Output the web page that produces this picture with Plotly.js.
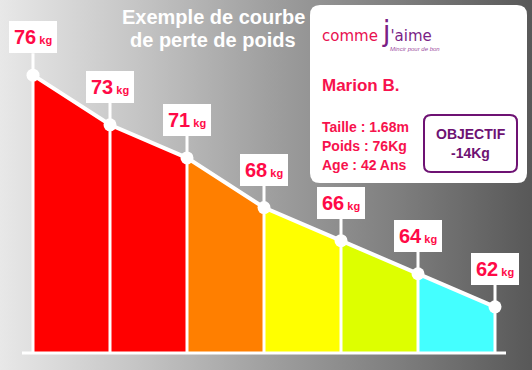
<!DOCTYPE html>
<html>
<head>
<meta charset="utf-8">
<script src="https://cdn.plot.ly/plotly-3.0.1.min.js"></script>
<style>
html,body{margin:0;padding:0;}
#chart{width:532px;height:370px;background:linear-gradient(to right,#e8e8e8 0%,#c6c6c6 25%,#a0a0a0 50%,#7e7e7e 75%,#585858 100%);}
</style>
</head>
<body>
<div id="chart"></div>
<script>
// ---- data ----
const steps = [0, 1, 2, 3, 4, 5, 6];
const weights = [76, 73, 71, 68, 66, 64, 62];
const unit = 'kg';
const segmentColors = ['#ff0000', '#ff0000', '#ff7f00', '#ffff00', '#ddff00', '#44ffff'];
const titleLines = ['Exemple de courbe', 'de perte de poids'];
const personName = 'Marion B.';
const personInfo = ['Taille : 1.68m', 'Poids : 76Kg', 'Age : 42 Ans'];
const goalLines = ['OBJECTIF', '-14Kg'];

// ---- layout helpers ----
const W = 532, H = 370, MB = 17;
const PH = H - MB;
const px = x => x / W;
const py = y => 1 - y / PH;
const yRange = [59.21, 80.54];
const xRange = [-0.4286, 6.4805];
const font = 'Liberation Sans, Arial, sans-serif';
const red = '#f7124d';
const purple = '#6e1273';

function roundRect(x0, y0, x1, y1, r) {
  const rx = r / W, ry = r / PH;
  const X0 = px(x0), X1 = px(x1), Y0 = py(y0), Y1 = py(y1);
  return `M${X0 + rx},${Y0} L${X1 - rx},${Y0} Q${X1},${Y0} ${X1},${Y0 - ry} ` +
         `L${X1},${Y1 + ry} Q${X1},${Y1} ${X1 - rx},${Y1} L${X0 + rx},${Y1} ` +
         `Q${X0},${Y1} ${X0},${Y1 + ry} L${X0},${Y0 - ry} Q${X0},${Y0} ${X0 + rx},${Y0} Z`;
}

const traces = [];
// coloured segments
for (let i = 0; i < steps.length - 1; i++) {
  traces.push({
    x: [steps[i], steps[i + 1]], y: [weights[i], weights[i + 1]],
    type: 'scatter', mode: 'lines', fill: 'tozeroy',
    fillcolor: segmentColors[i], line: {width: 0, color: segmentColors[i]},
    hoverinfo: 'skip', showlegend: false
  });
}
// white separators
const sx = [], sy = [];
steps.forEach((s, i) => { sx.push(s, s, null); sy.push(yRange[0], weights[i], null); });
traces.push({x: sx, y: sy, type: 'scatter', mode: 'lines',
  line: {color: '#ffffff', width: 3}, hoverinfo: 'skip', showlegend: false});
// curve
traces.push({x: steps, y: weights, type: 'scatter', mode: 'lines+markers',
  line: {color: '#ffffff', width: 4}, marker: {color: '#ffffff', size: 13},
  cliponaxis: false, hoverinfo: 'skip', showlegend: false});

const annotations = [];
weights.forEach((w, i) => {
  annotations.push({
    x: steps[i], y: w, xref: 'x', yref: 'y',
    text: `<b>${w}</b><span style="font-size:11px"><b> ${unit}</b></span>`,
    font: {family: font, size: 20, color: '#ff0a47'},
    bgcolor: '#ffffff', borderpad: 5, borderwidth: 0,
    showarrow: true, arrowhead: 0, arrowcolor: '#ffffff', arrowwidth: 3,
    ax: 0, ay: -38, standoff: 0
  });
});
// title
titleLines.forEach((t, k) => {
  annotations.push({x: px(213), y: py(17 + 23 * k), xref: 'paper', yref: 'paper',
    text: `<b>${t}</b>`, showarrow: false, xanchor: 'center', yanchor: 'middle',
    font: {family: 'Liberation Sans Narrow, Liberation Sans, Arial, sans-serif', size: 20, color: '#ffffff'}});
});
// logo
annotations.push({x: px(320), y: py(31), xref: 'paper', yref: 'paper', xanchor: 'left', yanchor: 'middle',
  text: `comme <span style="color:#7b1f86"><span style="font-size:28px">j</span>'aime</span>`,
  showarrow: false, font: {family: 'DejaVu Sans, sans-serif', size: 15, color: '#e8104f'}});
annotations.push({x: px(388), y: py(49), xref: 'paper', yref: 'paper', xanchor: 'left', yanchor: 'middle',
  text: '<i>Mincir pour de bon</i>', showarrow: false, font: {family: font, size: 6, color: '#9a4aa0'}});
// name + info
annotations.push({x: px(320), y: py(86), xref: 'paper', yref: 'paper', xanchor: 'left', yanchor: 'middle',
  text: `<b>${personName}</b>`, showarrow: false, font: {family: font, size: 17, color: red}});
personInfo.forEach((t, k) => {
  annotations.push({x: px(320), y: py(127 + 19 * k), xref: 'paper', yref: 'paper', xanchor: 'left', yanchor: 'middle',
    text: `<b>${t}</b>`, showarrow: false, font: {family: font, size: 14, color: red}});
});
goalLines.forEach((t, k) => {
  annotations.push({x: px(470.5), y: py(134 + 19 * k), xref: 'paper', yref: 'paper', xanchor: 'center', yanchor: 'middle',
    text: `<b>${t}</b>`, showarrow: false, font: {family: font, size: 14, color: purple}});
});

const shapes = [
  {type: 'line', xref: 'paper', yref: 'paper', x0: px(22), x1: px(506), y0: py(353), y1: py(353),
   line: {color: '#ffffff', width: 3}, layer: 'above'},
  {type: 'path', xref: 'paper', yref: 'paper', path: roundRect(310, 5, 527, 183, 10),
   fillcolor: '#ffffff', line: {color: 'rgba(0,0,0,0)', width: 0}, layer: 'above'},
  {type: 'path', xref: 'paper', yref: 'paper', path: roundRect(424, 115, 517, 172, 7),
   fillcolor: 'rgba(0,0,0,0)', line: {color: purple, width: 2}, layer: 'above'}
];

const layout = {
  width: W, height: H,
  margin: {l: 0, r: 0, t: 0, b: MB, pad: 0},
  paper_bgcolor: 'rgba(0,0,0,0)', plot_bgcolor: 'rgba(0,0,0,0)',
  xaxis: {range: xRange, visible: false, fixedrange: true},
  yaxis: {range: yRange, visible: false, fixedrange: true},
  showlegend: false,
  shapes: shapes,
  annotations: annotations
};

Plotly.newPlot('chart', traces, layout, {staticPlot: true, displayModeBar: false});
</script>
</body>
</html>
